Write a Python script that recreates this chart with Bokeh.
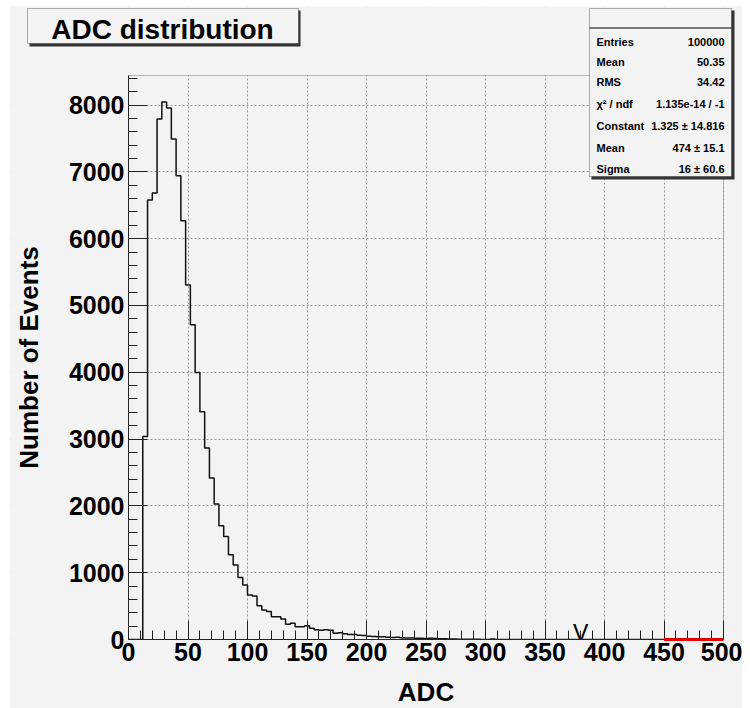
import math
from bokeh.plotting import figure
from bokeh.models import SingleIntervalTicker, Range1d, BoxAnnotation, Label
from bokeh.embed import file_html
from bokeh.resources import INLINE
from bokeh.core.properties import value

# ---------------- data ----------------
bin_width = 4
x_min, x_max = 0, 500
n_bins = 125
counts = [0, 0, 0, 3040, 6578, 6683, 7790, 8045, 7955, 7491,
          6942, 6268, 5305, 4711, 3997, 3409, 2865, 2416, 2027, 1702,
          1542, 1268, 1114, 928, 814, 665, 650, 504, 440, 419,
          340, 340, 305, 230, 245, 190, 190, 205, 170, 145,
          140, 145, 140, 95, 100, 85, 75, 75, 65, 60,
          50, 45, 40, 42, 35, 30, 32, 25, 22, 24,
          20, 18, 15, 20, 14, 10, 12, 8, 6, 5,
          4, 3, 2, 2, 1, 1, 6]
counts = counts + [0] * (n_bins - len(counts))
y_max = 8442
x_tick_interval = 50
y_tick_interval = 1000

title_text = "ADC distribution"
x_title = "ADC"
y_title = "Number of Events"

stat_labels = ["Entries", "Mean", "RMS", "\u03c7\u00b2 / ndf", "Constant", "Mean", "Sigma"]
stat_values = ["100000", "50.35", "34.42", "1.135e-14 / -1",
               "1.325 \u00b1 14.816", "474 \u00b1 15.1", "16 \u00b1 60.6"]

fit_constant, fit_mean, fit_sigma = 1.325, 474.0, 16.0
fit_range = [450, 500]

marker_x = [380]
marker_y = [0]
marker_text = ["V"]

# ---------------- layout constants (page pixels) ----------------
CANVAS_L, CANVAS_T, CANVAS_R, CANVAS_B = 10, 6, 742, 708
FRAME_L, FRAME_R, FRAME_T, FRAME_B = 128, 723, 75, 639
px_x = (FRAME_R - FRAME_L) / (x_max - x_min)
px_y = (FRAME_B - FRAME_T) / y_max

def sx(px):
    return px - CANVAS_L
def sy(py):
    return CANVAS_B - py

FONT = "Liberation Sans"
BG = "#f3f3f3"

xr = Range1d(x_min - (FRAME_L - CANVAS_L) / px_x, x_max + (CANVAS_R - FRAME_R) / px_x)
yr = Range1d(-(CANVAS_B - FRAME_B) / px_y, y_max + (FRAME_T - CANVAS_T) / px_y)

p = figure(width=CANVAS_R - CANVAS_L, height=CANVAS_B - CANVAS_T, x_range=xr, y_range=yr,
           output_backend="svg", toolbar_location=None, title=None,
           min_border_left=0, min_border_right=0, min_border_top=0, min_border_bottom=0)
p.margin = (CANVAS_T, 750 - CANVAS_R, 0, CANVAS_L)
p.background_fill_color = BG
p.border_fill_color = BG
p.outline_line_color = None

# axes (fixed at the ROOT frame edges)
xa, ya = p.xaxis[0], p.yaxis[0]
xa.fixed_location = 0
ya.fixed_location = 0
xa.bounds = (x_min, x_max)
ya.bounds = (0, y_max)
xa.ticker = SingleIntervalTicker(interval=x_tick_interval, num_minor_ticks=5)
ya.ticker = SingleIntervalTicker(interval=y_tick_interval, num_minor_ticks=5)
p.xgrid.ticker = SingleIntervalTicker(interval=x_tick_interval)
p.ygrid.ticker = SingleIntervalTicker(interval=y_tick_interval)
for ax in (xa, ya):
    ax.major_label_text_font = FONT
    ax.major_label_text_font_style = "bold"
    ax.major_label_text_font_size = "25px"
    ax.major_label_text_color = "black"
    ax.axis_label_text_font = FONT
    ax.axis_label_text_font_style = "bold"
    ax.axis_label_text_font_size = "26px"
    ax.axis_label_text_color = "black"
    ax.major_tick_in = 19
    ax.major_tick_out = 0
    ax.minor_tick_in = 9
    ax.minor_tick_out = 0
    ax.axis_line_color = "#222222"
    ax.major_tick_line_color = "#222222"
    ax.minor_tick_line_color = "#222222"
xa.axis_label = x_title
ya.axis_label = y_title
xa.major_label_standoff = 3
ya.major_label_standoff = 4
xa.axis_label_standoff = 13
ya.axis_label_standoff = 22

for g in (p.xgrid[0], p.ygrid[0]):
    g.grid_line_color = "#999999"
    g.grid_line_dash = "2 2"
    g.grid_line_width = 1

# covers hiding grid lines outside the ROOT frame
for kw in (dict(right=x_min), dict(left=x_max), dict(top=0), dict(bottom=y_max)):
    p.add_layout(BoxAnnotation(fill_color=BG, fill_alpha=1, line_color=None, level="glyph", **kw))

# ROOT frame outline
p.add_layout(BoxAnnotation(left=x_min, right=x_max, bottom=0, top=y_max, fill_alpha=0,
                           line_color="#333333", line_width=1, level="guide"))

# histogram outline
xs, ys = [x_min], [0]
for i, c in enumerate(counts):
    x0 = x_min + i * bin_width
    xs += [x0, x0 + bin_width]
    ys += [c, c]
xs.append(x_max)
ys.append(0)
p.line(xs, ys, line_color="#111111", line_width=1.5)

# fit function (gaus) drawn over its range
fx = [fit_range[0] + (fit_range[1] - fit_range[0]) * k / 50 for k in range(51)]
fy = [fit_constant * math.exp(-0.5 * ((x - fit_mean) / fit_sigma) ** 2) for x in fx]
p.line(fx, fy, line_color="#e00000", line_width=3, level="overlay")

# marker
p.text(x=marker_x, y=marker_y, text=marker_text, text_font=value(FONT),
       text_font_size="23px", text_align="center", text_baseline="middle",
       text_color="black", y_offset=-7)

# ---------------- boxes ----------------
def box(l, t, r, b, fill, line=None, lw=1):
    p.add_layout(BoxAnnotation(left=sx(l), right=sx(r), top=sy(t), bottom=sy(b),
                               left_units="screen", right_units="screen",
                               top_units="screen", bottom_units="screen",
                               fill_color=fill, fill_alpha=1,
                               line_color=line, line_width=lw, level="overlay"))

def label(x, y, text, size, align, baseline="middle"):
    p.add_layout(Label(x=sx(x), y=sy(y), x_units="screen", y_units="screen",
                       text=text, text_font=FONT, text_font_style="bold",
                       text_font_size=size, text_align=align, text_baseline=baseline,
                       text_color="black", level="overlay"))

# title box
box(29, 10, 300, 46, "#333333")
box(27, 8, 298, 43, BG, "black", 1)
label(162, 28.5, title_text, "28px", "center")

# stats box
box(591, 10, 734, 179, "#333333")
box(589, 8, 731, 176, BG, "black", 1)
box(589, 27, 731, 28, "black")
row_y = [41, 61, 81, 103, 125, 147, 168]
for lab, val, yy in zip(stat_labels, stat_values, row_y):
    label(596, yy, lab, "11px", "left")
    label(724, yy, val, "11px", "right")

open("out.html", "w").write(file_html(p, INLINE))
